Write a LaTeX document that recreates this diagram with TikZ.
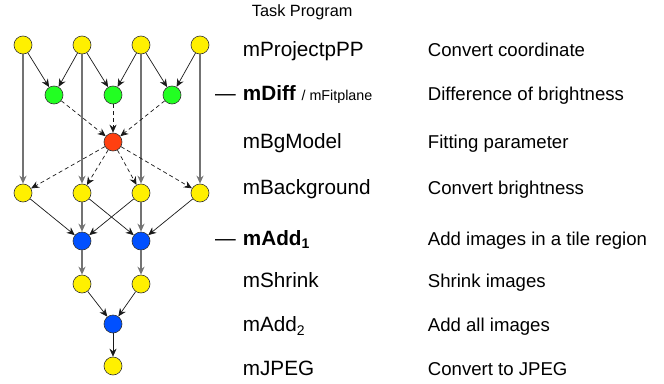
\documentclass[tikz,border=0pt]{standalone}
\usepackage{fontspec}
\setmainfont{Liberation Sans}
\usetikzlibrary{arrows.meta}
\definecolor{jobyellow}{RGB}{255,240,0}
\definecolor{jobgreen}{RGB}{34,255,34}
\definecolor{jobred}{RGB}{255,64,16}
\definecolor{jobblue}{RGB}{0,80,255}
\tikzset{
  job/.style={circle,draw=black!80,line width=0.6pt,minimum size=18pt,inner sep=0pt},
  flow/.style={-{Stealth[length=8pt,width=7pt]},black!90,line width=0.7pt},
  longflow/.style={flow,draw=black!55,line width=1.1pt},
  fitflow/.style={flow,dashed,dash pattern=on 4pt off 3pt},
  prog/.style={anchor=base west,inner sep=0pt,font=\fontsize{20.7}{22}\selectfont},
  desc/.style={anchor=base west,inner sep=0pt,font=\fontsize{18.6}{20}\selectfont},
}
\newcommand{\lowidx}[1]{\raisebox{-0.35ex}{\fontsize{14}{14}\selectfont #1}}
\begin{document}
\begin{tikzpicture}[x=1pt,y=-1pt]
  \useasboundingbox (0,0) rectangle (664,383);

  % Workflow nodes
  \foreach \i/\x in {1/23,2/82,3/141,4/200} {
    \node[job,fill=jobyellow] (a\i) at (\x,45) {};
    \node[job,fill=jobyellow] (b\i) at (\x,193) {};
  }
  \foreach \i/\x in {1/54,2/113,3/172}
    \node[job,fill=jobgreen] (g\i) at (\x,95) {};
  \node[job,fill=jobred] (fit) at (113,142) {};
  \foreach \i/\x in {1/82,2/141} {
    \node[job,fill=jobblue] (c\i) at (\x,241) {};
    \node[job,fill=jobyellow] (d\i) at (\x,284) {};
  }
  \node[job,fill=jobblue] (sum) at (113,324) {};
  \node[job,fill=jobyellow] (jpeg) at (113,366) {};

  % Projected images into differences
  \foreach \s/\t in {a1/g1,a2/g1,a2/g2,a3/g2,a3/g3,a4/g3}
    \draw[flow] (\s) -- (\t);
  \foreach \i in {1,2,3,4}
    \draw[longflow] (a\i) -- (b\i);

  % Fitting
  \foreach \i in {1,2,3}
    \draw[fitflow] (g\i) -- (fit);
  \foreach \i in {1,2,3,4}
    \draw[fitflow] (fit) -- (b\i);

  % Adding tiles
  \foreach \s/\t in {b1/c1,b3/c1,b2/c2,b4/c2}
    \draw[flow] (\s) -- (\t);
  \draw[longflow] (b2) -- (c1);
  \draw[longflow] (b3) -- (c2);
  \draw[longflow] (c1) -- (d1);
  \draw[longflow] (c2) -- (d2);
  \draw[flow] (d1) -- (sum);
  \draw[flow] (d2) -- (sum);
  \draw[flow] (sum) -- (jpeg);

  % Task and program columns
  \node[anchor=base west,inner sep=0pt,font=\fontsize{16.3}{18}\selectfont] (head) at (251.7,16) {Task Program};
  \node[prog] (p1) at (242.7,56) {mProjectpPP};
  \node[prog] (p2) at (242.7,100.7) {\textbf{mDiff} {\fontsize{14.3}{16}\selectfont / mFitplane}};
  \node[prog] (p3) at (242.7,148.3) {mBgModel};
  \node[prog] (p4) at (242.7,194.3) {mBackground};
  \node[prog] (p5) at (242.7,245) {\textbf{mAdd\lowidx{1}}};
  \node[prog] (p6) at (242.7,287.3) {mShrink};
  \node[prog] (p7) at (242.7,331.7) {mAdd\lowidx{2}};
  \node[prog] (p8) at (242.7,375) {mJPEG};
  \node[prog,anchor=base east] (m2) at (236,100.7) {—};
  \node[prog,anchor=base east] (m5) at (236,245) {—};

  \node[desc] (t1) at (427.7,56) {Convert coordinate};
  \node[desc] (t2) at (427.7,100.7) {Difference of brightness};
  \node[desc] (t3) at (427.7,148.3) {Fitting parameter};
  \node[desc] (t4) at (427.7,194.3) {Convert brightness};
  \node[desc] (t5) at (427.7,245) {Add images in a tile region};
  \node[desc] (t6) at (427.7,287.3) {Shrink images};
  \node[desc] (t7) at (427.7,331.7) {Add all images};
  \node[desc] (t8) at (427.7,375) {Convert to JPEG};
\end{tikzpicture}
\end{document}
